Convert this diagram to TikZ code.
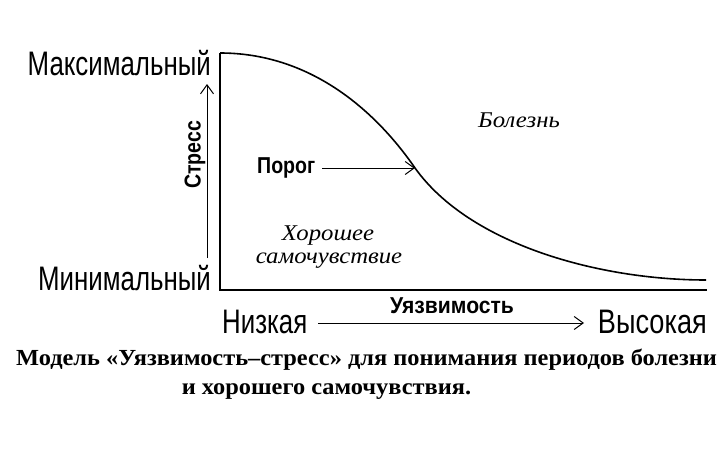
\documentclass[tikz,border=0pt]{standalone}
\usepackage{fontspec}
\setmainfont{Liberation Serif}
\newfontfamily\cond[FakeStretch=0.76]{Liberation Sans}
\newfontfamily\condb[FakeStretch=0.85]{Liberation Sans}
\newfontfamily\capf[FakeStretch=1.06]{Liberation Serif}
\newfontfamily\itf[FakeStretch=1.1]{Liberation Serif}
\usetikzlibrary{arrows.meta}
\begin{document}
\begin{tikzpicture}[x=1pt,y=-1pt,
  axisline/.style={line width=1.7pt},
  curveline/.style={line width=1.6pt},
  thinarrow/.style={line width=1pt,-{Straight Barb[length=9pt,width=13pt,line width=1pt]}},
  axlabel/.style={font=\cond\fontsize{34}{36}\selectfont,inner sep=0pt},
  boldlabel/.style={font=\condb\bfseries\fontsize{23}{26}\selectfont,inner sep=0pt},
  itlabel/.style={font=\itf\itshape\fontsize{22.5}{20}\selectfont,inner sep=0pt,anchor=base},
  caplabel/.style={font=\capf\bfseries\fontsize{23}{28}\selectfont,inner sep=0pt,anchor=base}]
\useasboundingbox (0,0) rectangle (723,455);
\coordinate (top) at (220,53);
\coordinate (origin) at (220,290);
\coordinate (xend) at (707,290);
\coordinate (mid) at (415,168);
\coordinate (cend) at (706,280);
% axes
\draw[axisline] (top) -- (origin) -- (xend);
% curve
\draw[curveline] (top) .. controls (310,53) and (375,110) .. (mid)
  .. controls (470,245) and (600,280) .. (cend);
% y labels
\node[axlabel,anchor=east] (ymax) at (211,63) {Максимальный};
\node[axlabel,anchor=east] (ymin) at (211,278) {Минимальный};
\coordinate (ya) at (207,258);
\coordinate (yb) at (207,84);
\draw[thinarrow] (ya) -- (yb);
\node[boldlabel,rotate=90] (stress) at (195,155) {Стресс};
% x labels
\node[axlabel,anchor=west] (xlow) at (222,322) {Низкая};
\node[axlabel,anchor=east,xscale=1.05] (xhigh) at (707,322) {Высокая};
\coordinate (xa) at (318,323);
\coordinate (xb) at (584,323);
\draw[thinarrow] (xa) -- (xb);
\node[boldlabel,xscale=1.08] (vuln) at (452,306) {Уязвимость};
% threshold
\node[boldlabel,anchor=west] (porog) at (257,168) {Порог};
\coordinate (pa) at (322,168);
\draw[thinarrow] (pa) -- (mid);
% regions
\node[itlabel] (ill) at (519,127) {Болезнь};
\node[itlabel] (well1) at (328,240.5) {Хорошее};
\node[itlabel] (well2) at (329,263) {самочувствие};
% caption
\node[caplabel] (cap1) at (366.5,365) {Модель «Уязвимость–стресс» для понимания периодов болезни};
\node[caplabel] (cap2) at (326.5,394) {и хорошего самочувствия.};
\end{tikzpicture}
\end{document}
